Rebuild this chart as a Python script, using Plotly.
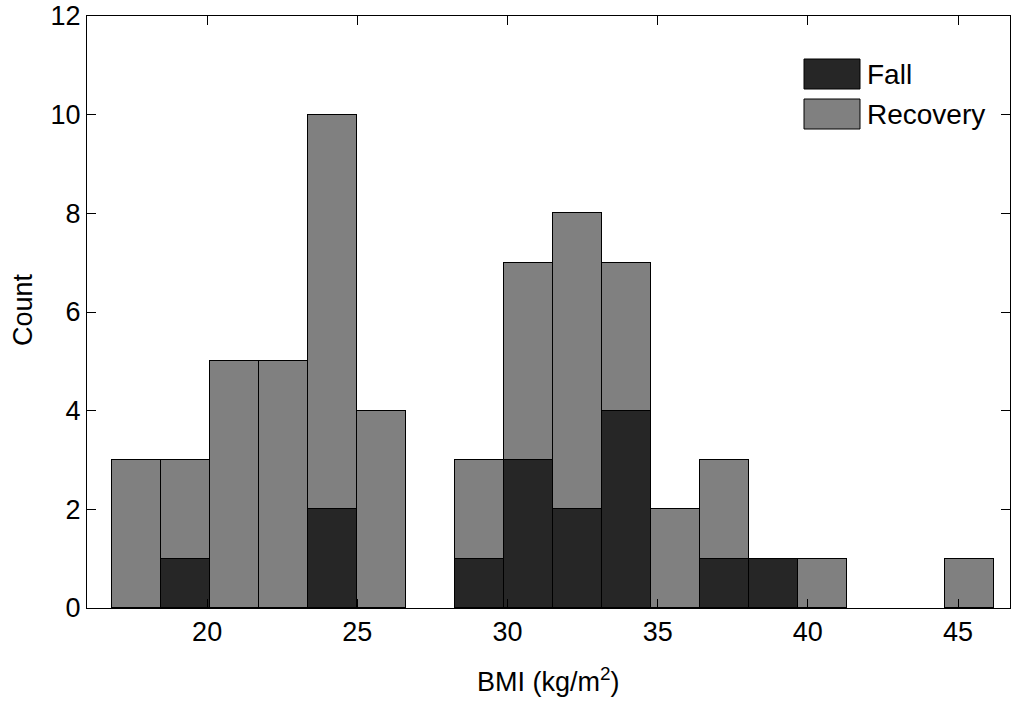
import plotly.graph_objects as go

# Histogram bins (BMI, kg/m^2)
bin_centers = [17.65, 19.28, 20.91, 22.54, 24.17, 25.81, 27.44, 29.07, 30.70,
               32.33, 33.97, 35.60, 37.23, 38.86, 40.49, 42.13, 43.76, 45.39]
bin_width = 1.632

fall_counts = [0, 1, 0, 0, 2, 0, 0, 1, 3, 2, 4, 0, 1, 1, 0, 0, 0, 0]
recovery_counts = [3, 2, 5, 5, 8, 4, 0, 2, 4, 6, 3, 2, 2, 0, 1, 0, 0, 1]

x_ticks = [20, 25, 30, 35, 40, 45]
y_ticks = [0, 2, 4, 6, 8, 10, 12]

series_names = ["Fall", "Recovery"]
series_colors = ["#262626", "#808080"]

FONT = "Liberation Sans, Arial, Helvetica, sans-serif"
FS = 27

fig = go.Figure()
for name, vals, col in zip(series_names, [fall_counts, recovery_counts], series_colors):
    fig.add_trace(go.Bar(
        x=bin_centers, y=[v if v else None for v in vals],
        width=[bin_width] * len(bin_centers),
        name=name, marker=dict(color=col, line=dict(color="black", width=1)),
        showlegend=False,
    ))

W, H = 1011, 702
ml, mr, mt, mb = 87, 1, 16, 94
pw, ph = W - ml - mr, H - mt - mb

def px(x):
    return (x - ml) / pw

def py(y):
    return (H - mb - y) / ph

shapes = []
annotations = []
legend_rows = [(59, 89), (99, 129)]
for (y0, y1), name, col in zip(legend_rows, series_names, series_colors):
    shapes.append(dict(type="rect", xref="paper", yref="paper",
                       x0=px(804), x1=px(860), y0=py(y1), y1=py(y0),
                       fillcolor=col, line=dict(color="black", width=1)))
    annotations.append(dict(xref="paper", yref="paper", x=px(865), y=py((y0 + y1) / 2),
                            text=name, showarrow=False, xanchor="left", yanchor="middle",
                            font=dict(family=FONT, size=28, color="black")))

annotations.append(dict(xref="paper", yref="paper", x=0.5, y=py(680),
                        text="BMI (kg/m<sup>2</sup>)", showarrow=False,
                        xanchor="center", yanchor="middle",
                        font=dict(family=FONT, size=FS, color="black")))
annotations.append(dict(xref="paper", yref="paper", x=px(23), y=py(310),
                        text="Count", textangle=-90, showarrow=False,
                        xanchor="center", yanchor="middle",
                        font=dict(family=FONT, size=FS, color="black")))

fig.update_layout(
    width=W, height=H,
    margin=dict(l=ml, r=mr, t=mt, b=mb, pad=0),
    paper_bgcolor="white", plot_bgcolor="white",
    barmode="stack", bargap=0,
    font=dict(family=FONT, size=FS, color="black"),
    shapes=shapes, annotations=annotations,
    xaxis=dict(range=[16.0, 46.73], tickvals=x_ticks, ticks="inside", ticklen=9,
               tickcolor="black", showline=True, linecolor="black", linewidth=1,
               mirror="ticks", showgrid=False, zeroline=False,
               tickfont=dict(family=FONT, size=FS, color="black")),
    yaxis=dict(range=[0, 12], tickvals=y_ticks, ticks="inside", ticklen=9,
               tickcolor="black", showline=True, linecolor="black", linewidth=1,
               mirror="ticks", showgrid=False, zeroline=False,
               tickfont=dict(family=FONT, size=FS, color="black")),
)

fig.write_html("out.html", config={"displayModeBar": False},
               post_script="document.body.style.margin='0';document.body.style.overflow='hidden';")
